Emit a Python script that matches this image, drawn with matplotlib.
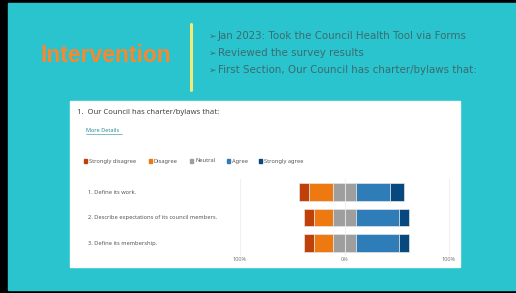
import matplotlib.pyplot as plt
from matplotlib.patches import Rectangle
from matplotlib.transforms import blended_transform_factory

# survey data (percent of responses)
questions = ["1. Define its work.",
             "2. Describe expectations of its council members.",
             "3. Define its membership."]
levels = ["Strongly disagree", "Disagree", "Neutral", "Agree", "Strongly agree"]
colors = ["#c0400a", "#ee7910", "#9e9e9e", "#2f7db8", "#07497f"]
strongly_disagree = [9.1, 9.1, 9.1]
disagree = [22.7, 18.2, 18.2]
neutral = [22.7, 22.7, 22.7]
agree = [31.8, 40.9, 40.9]
strongly_agree = [13.6, 9.1, 9.1]

bullets = ["Jan 2023: Took the Council Health Tool via Forms",
           "Reviewed the survey results",
           "First Section, Our Council has charter/bylaws that:"]

W, H = 516, 293
fig = plt.figure(figsize=(W / 100, H / 100), dpi=100)
fig.patch.set_facecolor("black")

def fx(px):
    return px / W

def fy(py):
    return 1 - py / H

teal = "#29c4cd"
fig.patches.append(Rectangle((fx(8), fy(290)), fx(W - 8), (290 - 3) / H,
                             transform=fig.transFigure, color=teal, zorder=0))
# white chart card
fig.patches.append(Rectangle((fx(70), fy(267)), fx(390), (267 - 101) / H,
                             transform=fig.transFigure, color="white", zorder=1))

# slide header
fig.text(fx(106), fy(56), "Intervention", color="#f7882f", fontsize=16.5,
         fontweight="bold", family="Liberation Sans", ha="center", va="center")
fig.add_artist(plt.Line2D([fx(191), fx(191)], [fy(24), fy(90)], color="#f3e97a",
                          lw=2.2, transform=fig.transFigure, solid_capstyle="round"))
for i, b in enumerate(bullets):
    y = fy(36 + i * 17)
    fig.text(fx(209), y, "\u27a2", color="#3d6b70", fontsize=6.5,
             family="DejaVu Sans", va="center")
    fig.text(fx(218), y, b, color="#3d6b70", fontsize=7.4,
             family="DejaVu Sans", va="center")

# chart card text
fig.text(fx(77), fy(113), "1.  Our Council has charter/bylaws that:", color="#444444",
         fontsize=5.5, family="Noto Sans", va="center", zorder=3)
fig.text(fx(86), fy(131), "More Details", color="#2a8a9a", fontsize=4.0,
         family="Noto Sans", va="center", zorder=3)
fig.add_artist(plt.Line2D([fx(86), fx(121.5)], [fy(133.5), fy(133.5)], color="#2a8a9a",
                          lw=0.4, transform=fig.transFigure, zorder=3))

leg_x = [85, 150, 191, 228, 260]
for x, lab, c in zip(leg_x, levels, colors):
    fig.patches.append(Rectangle((fx(x - 1.5), fy(162.5)), fx(3.5), 3.5 / H,
                                 transform=fig.transFigure, color=c, zorder=3))
    fig.text(fx(x + 4), fy(161), lab, color="#555555", fontsize=4.1,
             family="Noto Sans", va="center", zorder=3)

# diverging bars
ax = fig.add_axes([fx(240), fy(255), fx(449 - 240), (255 - 179) / H])
ax.set_zorder(3)
ax.patch.set_alpha(0)
rows = range(len(questions))
series = [strongly_disagree, disagree, neutral, agree, strongly_agree]
for r in rows:
    left = -(strongly_disagree[r] + disagree[r] + neutral[r] / 2)
    for vals, c in zip(series, colors):
        ax.barh(r, vals[r], left=left, height=0.68, color=c,
                edgecolor="#e6e6e6", linewidth=0.5, zorder=2)
        left += vals[r]

for gx in [-100, 0, 100]:
    ax.axvline(gx, color="#eeeeee", lw=0.8, zorder=3 if gx == 0 else 1, alpha=0.8,
               clip_on=False)
ax.axhline(2.47, color="#eeeeee", lw=0.8, zorder=1)
ax.set_xlim(-100, 100)
ax.set_ylim(2.47, -0.51)
for s in ax.spines.values():
    s.set_visible(False)
ax.set_yticks([])
ax.set_xticks([-100, 0, 100])
ax.set_xticklabels(["100%", "0%", "100%"], fontsize=4.0, color="#777777",
                   family="Noto Sans")
ax.tick_params(axis="x", length=0, pad=1.5)

tr = blended_transform_factory(fig.transFigure, ax.transData)
for r, q in zip(rows, questions):
    ax.text(fx(88), r, q, transform=tr, fontsize=4.1, color="#555555",
            family="Noto Sans", va="center", clip_on=False)

fig.savefig("out.png", dpi=100, facecolor=fig.get_facecolor())
